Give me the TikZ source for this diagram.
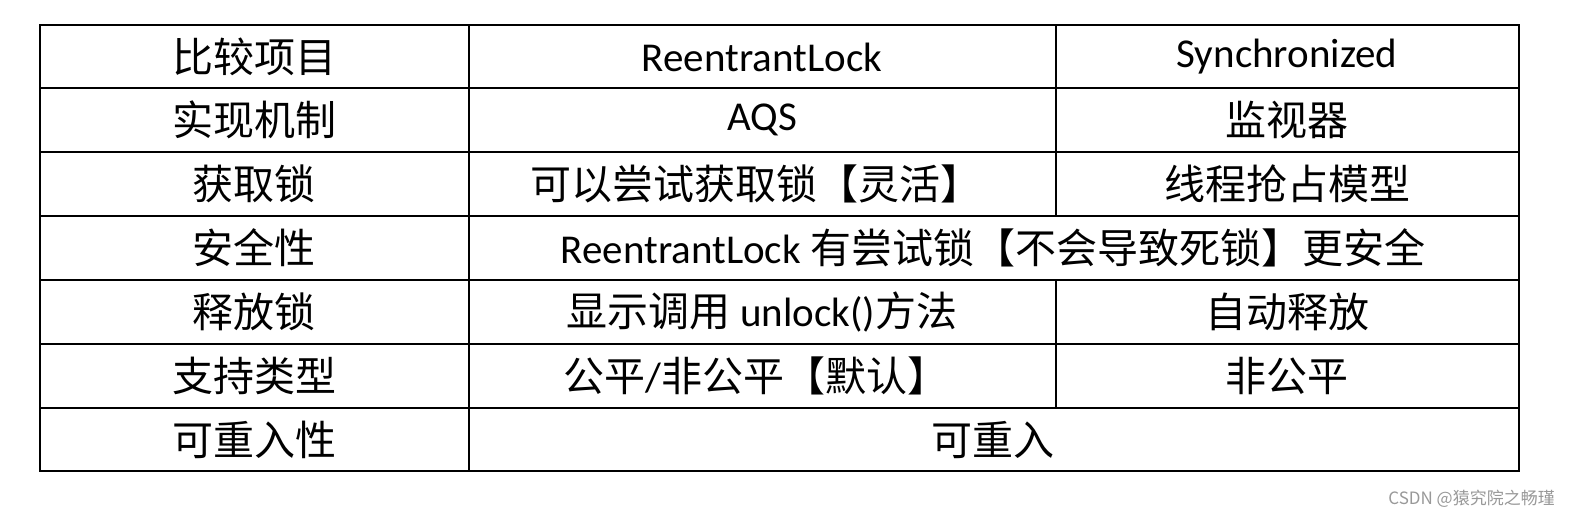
\documentclass[tikz,border=0pt]{standalone}
\usepackage{fontspec}
\setmainfont{Carlito}
\newfontfamily\cjk{Noto Sans CJK SC}
\newcommand{\zh}[1]{{\cjk #1}}
\begin{document}
\begin{tikzpicture}[x=1pt,y=-1pt,
  cell/.style={inner sep=0pt,anchor=center,font=\fontsize{41}{44}\selectfont},
  grid/.style={line width=1.3pt,black}]
\path[use as bounding box,fill=white] (0,0) rectangle (1582,523);
\draw[grid] (40,25) rectangle (1519,471);
\foreach \y in {88,152,216,280,344,408} \draw[grid] (40,\y) -- (1519,\y);
\draw[grid] (469,25) -- (469,471);
\draw[grid] (1056,25) -- (1056,216);
\draw[grid] (1056,280) -- (1056,408);
\node[cell] (a1) at (254,57) {\zh{比较项目}};
\node[cell] (b1) at (762,57) {ReentrantLock};
\node[cell] (c1) at (1287,57) {Synchronized};
\node[cell] (a2) at (254,120) {\zh{实现机制}};
\node[cell] (b2) at (762,120) {AQS};
\node[cell] (c2) at (1287,120) {\zh{监视器}};
\node[cell] (a3) at (254,184) {\zh{获取锁}};
\node[cell] (b3) at (756,184) {\zh{可以尝试获取锁【灵活】}};
\node[cell] (c3) at (1287,184) {\zh{线程抢占模型}};
\node[cell] (a4) at (254,248) {\zh{安全性}};
\node[cell] (b4) at (993,248) {ReentrantLock \zh{有尝试锁【不会导致死锁】更安全}};
\node[cell] (a5) at (254,312) {\zh{释放锁}};
\node[cell] (b5) at (762,312) {\zh{显示调用} unlock()\zh{方法}};
\node[cell] (c5) at (1287,312) {\zh{自动释放}};
\node[cell] (a6) at (254,376) {\zh{支持类型}};
\node[cell] (b6) at (756,376) {\zh{公平}/\zh{非公平【默认】}};
\node[cell] (c6) at (1287,376) {\zh{非公平}};
\node[cell] (a7) at (254,440) {\zh{可重入性}};
\node[cell] (b7) at (993,440) {\zh{可重入}};
\node[inner sep=0pt,anchor=east,text=gray!80,font=\cjk\fontsize{17}{19}\selectfont] (wm) at (1555,499) {CSDN @猿究院之畅瑾};
\end{tikzpicture}
\end{document}
